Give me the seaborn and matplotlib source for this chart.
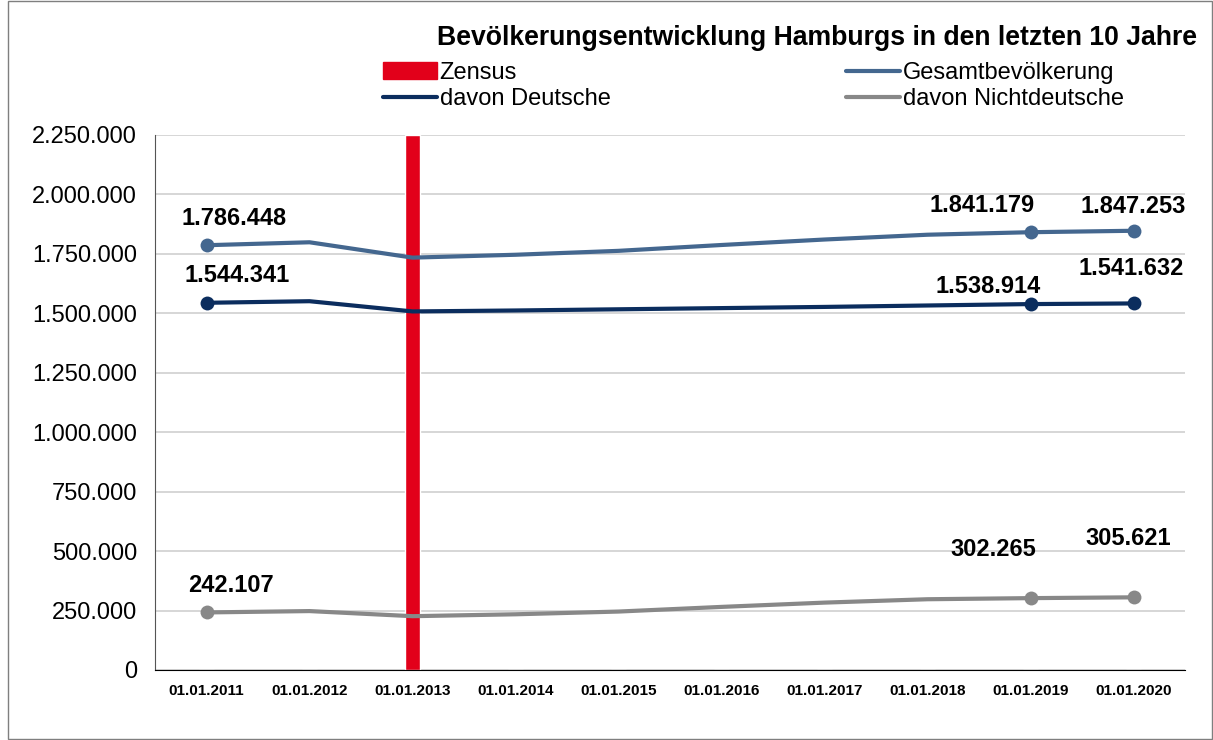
import matplotlib
matplotlib.use("Agg")
import matplotlib.pyplot as plt
import matplotlib.ticker as mticker
from matplotlib.patches import Rectangle, Patch
from matplotlib.lines import Line2D
import seaborn as sns
import pandas as pd

# data
jahre = ['01.01.2011', '01.01.2012', '01.01.2013', '01.01.2014', '01.01.2015',
         '01.01.2016', '01.01.2017', '01.01.2018', '01.01.2019', '01.01.2020']
gesamt = [1786448, 1798836, 1734272, 1746342, 1762791, 1787408, 1810438, 1830584, 1841179, 1847253]
deutsche = [1544341, 1551000, 1508000, 1512000, 1517000, 1522000, 1527000, 1533000, 1538914, 1541632]
nichtdeutsche = [242107, 247800, 226300, 234300, 245800, 265400, 283400, 297600, 302265, 305621]
zensus = [0, 0, 2250000, 0, 0, 0, 0, 0, 0, 0]
beschriftet = [0, 8, 9]  # points with marker + label

df = pd.DataFrame({'jahr': jahre, 'gesamt': gesamt, 'deutsche': deutsche,
                   'nichtdeutsche': nichtdeutsche, 'zensus': zensus})

sns.set_style('white')
plt.rcParams['font.family'] = ['Liberation Sans', 'DejaVu Sans']
plt.rcParams['text.color'] = 'black'
plt.rcParams['xtick.color'] = 'black'
plt.rcParams['ytick.color'] = 'black'

col_red = '#E2001A'
col_ges = '#44678F'
col_de = '#0B2D5E'
col_nd = '#888888'

fig = plt.figure(figsize=(12.13, 7.40), dpi=100)
ax = fig.add_axes([155/1213, 1-670/740, 1030/1213, 535/740])

sns.barplot(data=df, x='jahr', y='zensus', color=col_red, width=0.155,
            saturation=1, ax=ax, zorder=2)

series = [('gesamt', col_ges), ('deutsche', col_de), ('nichtdeutsche', col_nd)]
for name, c in series:
    sns.lineplot(data=df, x='jahr', y=name, sort=False, color=c, linewidth=3,
                 marker='o', markersize=10, markevery=beschriftet,
                 markeredgewidth=0, ax=ax, zorder=3)

# label offsets in pixels (dx, dy) for points 2011, 2019, 2020
offsets = {
    'gesamt': [(28, 27), (-48, 27), (0, 24)],
    'deutsche': [(31, 27), (-42, 18), (-2, 35)],
    'nichtdeutsche': [(24, 27), (-37, 49), (-5, 59)],
}
for name, c in series:
    for i, (dx, dy) in zip(beschriftet, offsets[name]):
        v = df[name][i]
        ax.annotate(f'{v:,}'.replace(',', '.'), (i, v), xytext=(dx, dy),
                    textcoords='offset pixels', ha='center', va='center',
                    fontsize=17, fontweight='bold', color='black', zorder=5)

ax.set_ylim(0, 2250000)
ax.set_xlim(-0.5, 9.5)
ax.yaxis.set_major_locator(mticker.MultipleLocator(250000))
ax.yaxis.set_major_formatter(mticker.FuncFormatter(lambda v, p: f'{int(v):,}'.replace(',', '.')))
ax.grid(axis='y', color='#CFCFCF', linewidth=1.2, zorder=0)
ax.set_axisbelow(True)
ax.set_xlabel('')
ax.set_ylabel('')

ax.set_xticks(range(len(jahre)))
ax.set_xticklabels(jahre, fontsize=11, fontweight='bold')
ax.set_xticks([i - 0.5 for i in range(len(jahre) + 1)], minor=True)
ax.tick_params(axis='x', which='major', length=0, pad=10)
ax.tick_params(axis='x', which='minor', length=5, width=1, color='black', direction='out')
ax.tick_params(axis='y', labelsize=17, length=5, width=1, color='#555555', direction='out', pad=8)

for s in ['top', 'right']:
    ax.spines[s].set_visible(False)
ax.spines['bottom'].set_color('black')
ax.spines['left'].set_color('#555555')

fig.text(1197/1213, 1-38/740, 'Bevölkerungsentwicklung Hamburgs in den letzten 10 Jahre',
         ha='right', va='center', fontsize=19.2, fontweight='bold', color='black')

leg_kw = dict(loc='upper left', frameon=False, fontsize=17, handlelength=2.3,
              handletextpad=0.1, labelspacing=0.18, borderaxespad=0, borderpad=0)
fig.legend([Patch(color=col_red), Line2D([], [], color=col_de, lw=3)],
           ['Zensus', 'davon Deutsche'], bbox_to_anchor=(383/1213, 1-62/740), **leg_kw)
fig.legend([Line2D([], [], color=col_ges, lw=3), Line2D([], [], color=col_nd, lw=3)],
           ['Gesamtbevölkerung', 'davon Nichtdeutsche'],
           bbox_to_anchor=(846/1213, 1-62/740), **leg_kw)

fig.patches.append(Rectangle((8/1213, 0.002), 1-9/1213, 0.996, transform=fig.transFigure,
                             fill=False, edgecolor='#7F7F7F', linewidth=1))

fig.savefig('out.png', dpi=100)
